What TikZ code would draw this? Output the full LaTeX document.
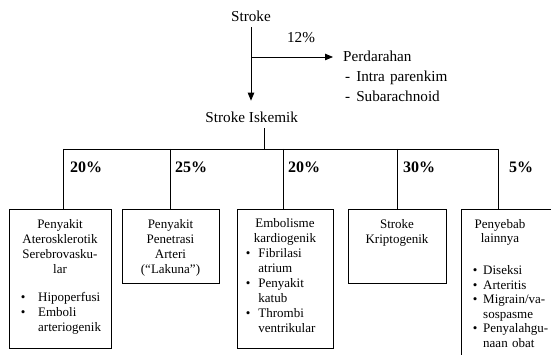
\documentclass[tikz,border=0pt]{standalone}
\usepackage{fontspec}
\setmainfont{Liberation Serif}
\usetikzlibrary{arrows.meta}
\newcommand{\bigtxt}{\fontsize{15.2}{20}\selectfont}
\newcommand{\boxtxt}{\fontsize{13}{15}\selectfont}
\newcommand{\pcttxt}{\fontsize{16}{19}\selectfont\bfseries}
\newcommand{\bul}[1]{\makebox[#1][l]{\textbullet}}

\begin{document}
\begin{tikzpicture}[x=1pt, y=1pt,
    line/.style={line width=0.8pt},
    arr/.style={line width=0.8pt, -{Triangle[length=8pt,width=6.5pt]}},
    box/.style={draw, line width=0.8pt, inner sep=0pt},
    top/.style={font=\bigtxt, inner sep=5pt, anchor=base},
    pct/.style={font=\pcttxt, inner sep=0pt, anchor=base west},
    head/.style={font=\boxtxt, inner sep=0pt, anchor=base, align=center},
    list/.style={font=\boxtxt, inner sep=0pt, anchor=base west, align=left}]
    \useasboundingbox (0,0) rectangle (551,355);
    \clip (0,0) rectangle (551,355);

    % Top part: Stroke and the bleeding branch
    \node[top] (stroke) at (251,333) {Stroke};
    \node[top] (iskemik) at (251.7,232) {Stroke Iskemik};
    \node[font=\bigtxt, inner sep=0pt, anchor=base west, align=left, text width=150pt]
        (perdarahan) at (343,293)
        {Perdarahan\\ \hspace*{2pt}-\hspace{6pt}Intra parenkim\\ \hspace*{2pt}-\hspace{6pt}Subarachnoid};
    \node[top] (pct12) at (301,312) {12\%};

    \coordinate (fork) at (251,298);
    \draw[line] (stroke.south) -- (fork);
    \draw[arr, shorten >=6.6pt] (fork) -- (fork |- iskemik.north);
    \draw[arr, shorten >=10pt] (fork) -- (fork -| perdarahan.west);

    % Boxes of the ischemic causes
    \node[box, anchor=north west, minimum width=102pt, minimum height=139pt] (box1) at (9,146) {};
    \node[box, anchor=north west, minimum width=97pt, minimum height=74pt] (box2) at (122,146) {};
    \node[box, anchor=north west, minimum width=96pt, minimum height=139pt] (box3) at (237,146) {};
    \node[box, anchor=north west, minimum width=98pt, minimum height=74pt] (box4) at (348,146) {};
    \node[box, anchor=north west, minimum width=100pt, minimum height=160pt] (box5) at (461,146) {};

    % Tree from Stroke Iskemik down to the boxes
    \coordinate (hub) at (264,206);
    \coordinate (b1) at (63,206);
    \coordinate (b2) at (170,206);
    \coordinate (b3) at (283,206);
    \coordinate (b4) at (397,206);
    \coordinate (b5) at (498,206);
    \draw[line] (hub |- iskemik.south) -- (hub);
    \draw[line] (b1) -- (b5);
    \draw[line] (b1) -- (b1 |- box1.north);
    \draw[line] (b2) -- (b2 |- box2.north);
    \draw[line] (b3) -- (b3 |- box3.north);
    \draw[line] (b4) -- (b4 |- box4.north);
    \draw[line] (b5) -- (b5 |- box5.north);

    % Percentages
    \node[pct] (p1) at (70,182) {20\%};
    \node[pct] (p2) at (175,182) {25\%};
    \node[pct] (p3) at (288,182) {20\%};
    \node[pct] (p4) at (403,182) {30\%};
    \node[pct] (p5) at (509,182) {5\%};

    % Box texts
    \node[head, text width=100pt] (t1) at (60,126)
        {Penyakit\\ Aterosklerotik\\ Serebrovasku-\\ lar};
    \node[list, text width=88pt] (l1) at (20.7,53)
        {\bul{17.3pt}Hipoperfusi\\ \bul{17.3pt}Emboli\\ \hspace*{17.3pt}arteriogenik};

    \node[head, text width=95pt] (t2) at (170.5,126)
        {Penyakit\\ Penetrasi\\ Arteri\\ (``Lakuna'')};

    \node[head, text width=94pt] (t3) at (285,127)
        {Embolisme\\ kardiogenik};
    \node[list, text width=85pt] (l3) at (245.7,97)
        {\bul{12.5pt}Fibrilasi\\ \hspace*{12.5pt}atrium\\
         \bul{12.5pt}Penyakit\\ \hspace*{12.5pt}katub\\
         \bul{12.5pt}Thrombi\\ \hspace*{12.5pt}ventrikular};

    \node[head, text width=96pt] (t4) at (397,126)
        {Stroke\\ Kriptogenik};

    \node[head, text width=80pt, font=\fontsize{13}{14}\selectfont] (t5) at (500,126)
        {Penyebab\\ lainnya};
    \node[list, text width=80pt, font=\fontsize{13}{14.5}\selectfont] (l5) at (472.7,80)
        {\bul{10.3pt}Diseksi\\ \bul{10.3pt}Arteritis\\
         \bul{10.3pt}Migrain/va-\\ \hspace*{10.3pt}sospasme\\
         \bul{10.3pt}Penyalahgu-\\ \hspace*{10.3pt}naan obat};
\end{tikzpicture}
\end{document}
